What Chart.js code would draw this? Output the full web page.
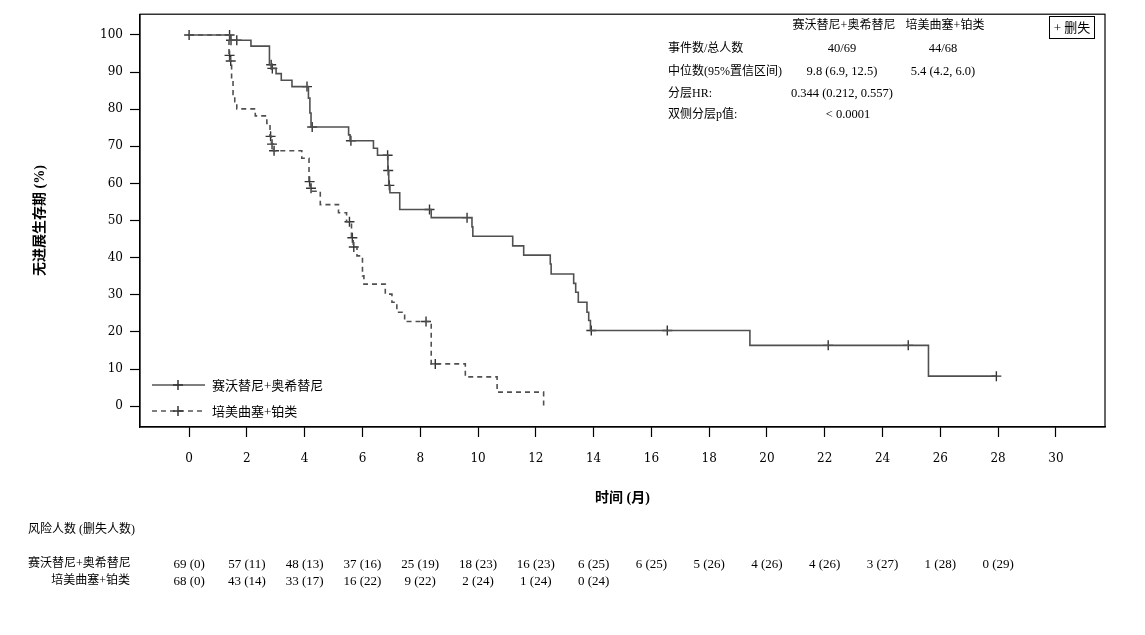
<!DOCTYPE html>
<html><head><meta charset="utf-8">
<script src="https://cdn.jsdelivr.net/npm/chart.js@4/dist/chart.umd.min.js"></script>
<style>
body{margin:0;background:#fff;}
#wrap{position:relative;width:1145px;height:635px;overflow:hidden;}
canvas{position:absolute;left:0;top:0;}
.t{position:absolute;font-family:"Liberation Serif","Noto Sans CJK SC",serif;font-size:13px;color:#000;white-space:nowrap;line-height:1;}
#cbox{position:absolute;left:1049px;top:16px;width:44px;height:21px;border:1px solid #000;font-family:"Liberation Serif","Noto Sans CJK SC";font-size:13px;line-height:21px;text-align:center;}
svg{position:absolute;left:0;top:0;}
</style></head>
<body><div id="wrap"><canvas id="c" width="1145" height="635"></canvas>
<div id="cbox">+ 删失</div>
<svg width="1145" height="635" style="pointer-events:none">
<line x1="152" y1="385" x2="205" y2="385" stroke="#555" stroke-width="1.5"/>
<line x1="178" y1="380" x2="178" y2="390" stroke="#333" stroke-width="1.5"/>
<line x1="173" y1="385" x2="183" y2="385" stroke="#333" stroke-width="1.5"/>
<line x1="152" y1="411" x2="205" y2="411" stroke="#555" stroke-width="1.5" stroke-dasharray="5,4"/>
<line x1="178" y1="406" x2="178" y2="416" stroke="#333" stroke-width="1.5"/>
<line x1="173" y1="411" x2="183" y2="411" stroke="#333" stroke-width="1.5"/>
</svg>
</div>
<script>
const armA = '赛沃替尼+奥希替尼';
const armB = '培美曲塞+铂类';
const xTicks = [0,2,4,6,8,10,12,14,16,18,20,22,24,26,28,30];
const yTicks = [0,10,20,30,40,50,60,70,80,90,100];

const aTime = [0,1.42,2.14,2.78,2.86,3.01,3.19,3.56,4.13,4.18,4.22,5.52,5.57,6.38,6.52,6.88,6.91,6.95,7.29,8.38,9.79,9.82,11.2,11.58,12.5,12.53,13.31,13.38,13.47,13.77,13.83,13.89,19.41,25.59,27.94];
const aSurv = [100,98.6,97.0,92.0,91.0,89.6,87.8,86.1,83.0,79.0,75.2,73.1,71.5,69.5,67.6,63.5,59.5,57.5,53.0,50.8,48.3,45.8,43.2,40.7,38.3,35.6,33.1,30.7,28.0,25.3,23.1,20.4,16.4,8.1,8.1];
const aCensT = [0,1.40,1.45,1.65,2.84,2.88,4.08,4.26,5.60,6.87,6.89,6.93,8.32,9.62,13.92,16.55,22.12,24.89,27.94];
const aCensS = [100,100,98.6,98.6,92.0,91.0,86.1,75.2,71.5,67.6,63.5,59.5,53.0,50.8,20.4,20.4,16.4,16.4,8.1];

const bTime = [0,1.38,1.42,1.47,1.52,1.58,1.65,2.29,2.69,2.80,2.85,2.92,3.90,4.15,4.20,4.25,4.54,5.17,5.45,5.62,5.68,5.81,6.00,6.05,6.79,7.02,7.19,7.46,8.38,9.56,10.66,12.27];
const bSurv = [100,94.5,93.0,88.0,84.0,82.0,80.1,78.2,76.2,72.7,70.6,68.8,66.8,60.5,58.7,57.9,54.3,52.1,49.7,45.4,42.9,40.5,35.1,32.9,30.2,28.0,25.3,22.8,11.4,7.9,3.8,0];
const bCensT = [1.40,1.44,2.82,2.87,2.94,4.17,4.22,5.55,5.65,5.70,8.20,8.52];
const bCensS = [94.5,93.0,72.7,70.6,68.8,60.5,58.7,49.7,45.4,42.9,22.8,11.4];

const riskTimes = [0,2,4,6,8,10,12,14,16,18,20,22,24,26,28];
const riskA = ['69 (0)','57 (11)','48 (13)','37 (16)','25 (19)','18 (23)','16 (23)','6 (25)','6 (25)','5 (26)','4 (26)','4 (26)','3 (27)','1 (28)','0 (29)'];
const riskB = ['68 (0)','43 (14)','33 (17)','16 (22)','9 (22)','2 (24)','1 (24)','0 (24)'];

const statLabels = ['事件数/总人数','中位数(95%置信区间)','分层HR:','双侧分层p值:'];
const statA = ['40/69','9.8 (6.9, 12.5)','0.344 (0.212, 0.557)','< 0.0001'];
const statB = ['44/68','5.4 (4.2, 6.0)','',''];

const pts = (xs, ys) => xs.map((x,i)=>({x:x, y:ys[i]}));

const frame = {
  id:'frame',
  afterDatasetsDraw(chart){
    const a = chart.chartArea, ctx = chart.ctx;
    ctx.save(); ctx.strokeStyle='#000'; ctx.lineWidth=1.2;
    ctx.strokeRect(a.left, a.top, a.right-a.left, a.bottom-a.top);
    ctx.restore();
  }
};

const tickFont = {family:'"DejaVu Serif","Liberation Serif",serif', size:12};
const titleFont = {family:'"Liberation Serif","Noto Sans CJK SC"', size:14, weight:'bold'};

const chart = new Chart(document.getElementById('c'), {
  type:'line',
  data:{datasets:[
    {label:armA, data:pts(aTime,aSurv), stepped:true, borderColor:'#505050', borderWidth:1.6, pointRadius:0, fill:false},
    {label:armB, data:pts(bTime,bSurv), stepped:true, borderColor:'#505050', borderWidth:1.6, borderDash:[5,4], pointRadius:0, fill:false},
    {label:armA+' 删失', data:pts(aCensT,aCensS), showLine:false, pointStyle:'cross', pointRadius:5, borderColor:'#333', borderWidth:1.4},
    {label:armB+' 删失', data:pts(bCensT,bCensS), showLine:false, pointStyle:'cross', pointRadius:5, borderColor:'#333', borderWidth:1.4}
  ]},
  options:{
    responsive:false, animation:false,
    layout:{padding:{left:0, top:12, right:40, bottom:124}},
    plugins:{legend:{display:false}, tooltip:{enabled:false}},
    scales:{
      x:{type:'linear', min:-1.7, max:31.7,
        afterBuildTicks:(ax)=>{ax.ticks = xTicks.map(v=>({value:v}));},
        afterFit:(ax)=>{ax.height = 84;},
        ticks:{font:tickFont, color:'#000', padding:15, maxRotation:0, autoSkip:false, callback:(v)=>String(v)},
        grid:{drawOnChartArea:false, drawTicks:true, tickLength:10, color:'#000', tickWidth:1.2},
        border:{display:true, color:'#000', width:1.2},
        title:{display:true, text:'时间 (月)', font:titleFont, color:'#000', padding:{top:4, bottom:4}}
      },
      y:{type:'linear', min:-5.6, max:105.6,
        afterBuildTicks:(ax)=>{ax.ticks = yTicks.map(v=>({value:v}));},
        afterFit:(ax)=>{ax.width = 140;},
        ticks:{font:tickFont, color:'#000', padding:7, autoSkip:false, callback:(v)=>String(v)},
        grid:{drawOnChartArea:false, drawTicks:true, tickLength:10, color:'#000', tickWidth:1.2},
        border:{display:true, color:'#000', width:1.2},
        title:{display:true, text:'无进展生存期 (%)', font:titleFont, color:'#000', padding:{top:32, bottom:0}}
      }
    }
  },
  plugins:[frame]
});

const wrap = document.getElementById('wrap');
function place(text, x, y, align, size){
  const d = document.createElement('div');
  d.className = 't'; d.textContent = text;
  if (size) d.style.fontSize = size + 'px';
  d.style.left = x + 'px'; d.style.top = y + 'px';
  const tx = align==='center' ? '-50%' : (align==='right' ? '-100%' : '0');
  d.style.transform = 'translate(' + tx + ',-50%)';
  wrap.appendChild(d);
}
// legend text
place(armA, 212, 385, 'left', 13);
place(armB, 212, 411, 'left', 13);
// stats table
const statRows = [48, 71, 93, 114];
place(armA, 844, 25, 'center', 12);
place(armB, 945, 25, 'center', 12);
statLabels.forEach((s,i)=>place(s, 668, statRows[i], 'left', 12));
statA.forEach((s,i)=>{ if(s) place(s, i===3?848:842, statRows[i], 'center', 12.5); });
statB.forEach((s,i)=>{ if(s) place(s, 943, statRows[i], 'center', 12.5); });
// risk table
place('风险人数 (删失人数)', 28, 529, 'left', 12);
place(armA, 28, 563, 'left', 12);
place(armB, 130, 580, 'right', 12);
const xs = chart.scales.x;
riskA.forEach((s,i)=>place(s, xs.getPixelForValue(riskTimes[i]), 563, 'center', 13));
riskB.forEach((s,i)=>place(s, xs.getPixelForValue(riskTimes[i]), 580, 'center', 13));
</script>
</body></html>
